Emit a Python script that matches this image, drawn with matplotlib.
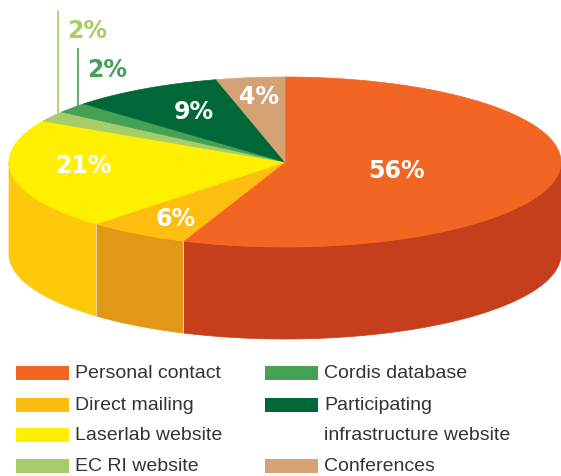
import numpy as np
import matplotlib
matplotlib.use("Agg")
import matplotlib.pyplot as plt
from matplotlib.patches import Polygon, Rectangle

# data
labels = ["Personal contact", "Direct mailing", "Laserlab website", "EC RI website",
          "Cordis database", "Participating\ninfrastructure website", "Conferences"]
values = [56, 6, 21, 2, 2, 9, 4]
top_colors = ["#F26522", "#FDBE10", "#FFF000", "#A6CE68", "#45A155", "#006838", "#D5A276"]
side_colors = ["#C63F1D", "#E19816", "#FEC80B", "#8DB555", "#3A8A48", "#00512B", "#B98860"]

plt.rcParams['font.family'] = ['Liberation Sans', 'DejaVu Sans']

fig = plt.figure(figsize=(5.61, 4.77), dpi=100)
ax = fig.add_axes([0, 0, 1, 1])
ax.set_xlim(0, 561)
ax.set_ylim(477, 0)
ax.axis("off")

# pie geometry (pixels)
cx, cy = 285, 163
rx, ry = 276, 85
depth = 92


def pt(a):
    return cx + rx * np.cos(a), cy - ry * np.sin(a)


fracs = np.array(values) / sum(values)
ends = np.pi / 2 - 2 * np.pi * np.cumsum(fracs)
starts = np.concatenate([[np.pi / 2], ends[:-1]])

# side walls (front half only)
for s, e, c in zip(starts, ends, side_colors):
    for shift in (0, -2 * np.pi):
        a0 = max(e - shift, -np.pi)
        a1 = min(s - shift, 0)
        if a1 <= a0:
            continue
        t = np.linspace(a0, a1, 80)
        xs, ys = pt(t)
        verts = list(zip(xs, ys)) + list(zip(xs[::-1], ys[::-1] + depth))
        ax.add_patch(Polygon(verts, closed=True, fc=c, ec=c, lw=0.5))
        # thin light seam at the slice edges
        for a in (a0, a1):
            if -np.pi < a < 0:
                x0, y0 = pt(a)
                ax.plot([x0, x0], [y0, y0 + depth], color="#F3D9A0", lw=0.6)

# top face
for s, e, c in zip(starts, ends, top_colors):
    t = np.linspace(s, e, 120)
    xs, ys = pt(t)
    verts = [(cx, cy)] + list(zip(xs, ys))
    ax.add_patch(Polygon(verts, closed=True, fc=c, ec=c, lw=0.5))

# percentage labels
lab_kw = dict(family="DejaVu Sans", fontsize=17, fontweight="bold")
lab_pos = {0: (397, 171), 1: (176, 219), 2: (83, 166), 5: (194, 112), 6: (259, 97)}
for i, (x, y) in lab_pos.items():
    ax.text(x, y, f"{values[i]}%", color="white", ha="center", va="center", **lab_kw)

# small slices with leader lines
ax.plot([58, 58], [12, 114], color="#A6CE68", lw=1.2)
ax.text(67, 31, f"{values[3]}%", color="#A6CE68", ha="left", va="center", **lab_kw)
ax.plot([78, 78], [50, 107], color="#45A155", lw=1.2)
ax.text(87, 70, f"{values[4]}%", color="#45A155", ha="left", va="center", **lab_kw)

# legend
rows = [374, 406, 436, 467]
legend_slots = [(0, 0), (0, 1), (0, 2), (0, 3), (1, 0), (1, 1), (1, 3)]
for i, (col, row) in enumerate(legend_slots):
    px = 16 if col == 0 else 265
    y = rows[row]
    ax.add_patch(Rectangle((px, y - 7), 53, 14, fc=top_colors[i], ec="none"))
    # wrapped labels go one line per legend row
    for k, line in enumerate(labels[i].split("\n")):
        ax.text(px + 59, rows[row + k], line, color="#333333", fontsize=14,
                ha="left", va="center")

fig.savefig("out.png", dpi=100)
